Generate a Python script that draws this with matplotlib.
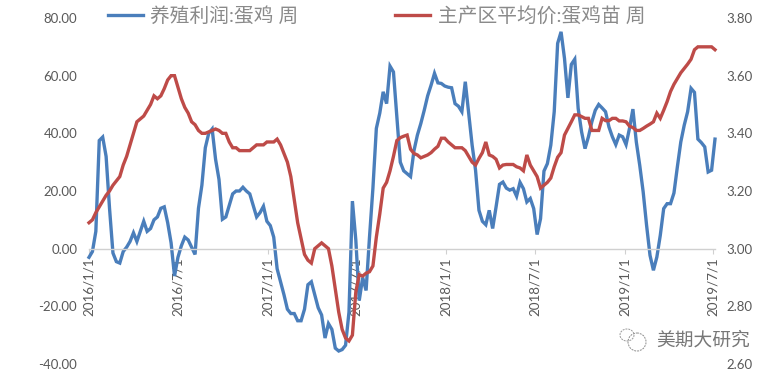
import pandas as pd
import matplotlib
matplotlib.use("Agg")
import matplotlib.pyplot as plt
from matplotlib.patches import Arc, Circle

plt.rcParams["font.family"] = ["Lato", "Noto Sans CJK SC", "DejaVu Sans"]

# Weekly values
profit = [
    -3, -1, 6, 37.5, 38.7, 32, 14, -1.5, -4.5, -5,
    -1, 0.5, 2.5, 5.5, 2.5, 6, 9.5, 6, 7, 10,
    11, 14, 14.5, 9, 2, -9.5, -3, 1, 4, 3,
    0.5, -2, 14, 22, 35, 40, 41.5, 31, 24, 10.2,
    11, 15, 19, 20, 20, 21.3, 20, 19, 15, 11,
    12.5, 14.7, 9.5, 8, 4, -7, -11.5, -16, -21, -22.5,
    -22.5, -25, -25, -21, -12.5, -11.5, -16, -20.5, -23, -31,
    -26, -28, -34.5, -35.5, -35, -33.5, -22, 16.5, 3, -18,
    -10, -14.5, 4, 21, 41.7, 47, 54.4, 50.3, 63.3, 61.3,
    45.7, 30, 27, 26, 25, 34, 39.4, 43.4, 48, 53,
    56.7, 60.8, 57.5, 57.3, 56.4, 56, 55.8, 50.3, 49.4, 47.5,
    57.9, 46.9, 35.9, 27.2, 13.3, 9.5, 8.3, 13.3, 7, 14.5,
    22.3, 23.1, 21, 20.3, 20.8, 18.2, 23, 20.8, 16.2, 17.4,
    13.9, 4.9, 10.4, 26.9, 29.5, 35.9, 47.5, 71.2, 75.2, 66,
    52.3, 63.9, 65.7, 48.6, 40.5, 34.7, 38.8, 44, 48, 50,
    48.8, 47.5, 42.2, 38.8, 36.1, 39.4, 38.8, 36.1, 41.7, 48.4,
    37, 28.9, 19.7, 8.1, -2.3, -7.5, -2.9, 4.6, 13.9, 15.6,
    15.6, 19.3, 28.4, 37, 42.8, 47.5, 55.6, 54.2, 38, 36.8,
    35.3, 26.6, 27.2, 38,
]

price = [
    3.09, 3.10, 3.125, 3.145, 3.165, 3.185, 3.20, 3.22, 3.235, 3.25,
    3.29, 3.32, 3.36, 3.40, 3.44, 3.45, 3.46, 3.48, 3.50, 3.53,
    3.52, 3.53, 3.555, 3.585, 3.60, 3.60, 3.56, 3.52, 3.49, 3.47,
    3.44, 3.43, 3.41, 3.40, 3.40, 3.405, 3.41, 3.415, 3.41, 3.40,
    3.40, 3.37, 3.35, 3.35, 3.34, 3.34, 3.34, 3.34, 3.35, 3.36,
    3.36, 3.36, 3.37, 3.37, 3.37, 3.38, 3.36, 3.33, 3.30, 3.25,
    3.17, 3.09, 3.035, 2.98, 2.96, 2.95, 3.00, 3.01, 3.02, 3.01,
    3.00, 2.94, 2.86, 2.78, 2.72, 2.69, 2.68, 2.70, 2.85, 2.91,
    2.905, 2.915, 2.92, 2.94, 3.04, 3.12, 3.21, 3.23, 3.27, 3.32,
    3.375, 3.385, 3.39, 3.394, 3.345, 3.33, 3.325, 3.315, 3.32, 3.325,
    3.333, 3.345, 3.355, 3.383, 3.383, 3.37, 3.36, 3.35, 3.35, 3.35,
    3.34, 3.32, 3.30, 3.29, 3.313, 3.333, 3.37, 3.325, 3.32, 3.31,
    3.28, 3.29, 3.292, 3.292, 3.292, 3.284, 3.28, 3.27, 3.325, 3.29,
    3.27, 3.25, 3.21, 3.22, 3.23, 3.245, 3.284, 3.317, 3.333, 3.394,
    3.417, 3.44, 3.464, 3.464, 3.458, 3.452, 3.452, 3.41, 3.41, 3.41,
    3.452, 3.444, 3.444, 3.452, 3.452, 3.443, 3.443, 3.44, 3.425, 3.42,
    3.41, 3.41, 3.417, 3.425, 3.432, 3.44, 3.47, 3.452, 3.48, 3.51,
    3.545, 3.57, 3.59, 3.61, 3.625, 3.64, 3.657, 3.69, 3.70, 3.70,
    3.70, 3.70, 3.70, 3.69,
]

tick_dates = ["2016-01-01", "2016-07-01", "2017-01-01", "2017-07-01",
              "2018-01-01", "2018-07-01", "2019-01-01", "2019-07-01"]
tick_labels = ["2016/1/1", "2016/7/1", "2017/1/1", "2017/7/1",
               "2018/1/1", "2018/7/1", "2019/1/1", "2019/7/1"]
left_ticks = [-40, -20, 0, 20, 40, 60, 80]
right_ticks = [2.6, 2.8, 3.0, 3.2, 3.4, 3.6, 3.8]

dates = pd.date_range("2016-01-01", periods=len(profit), freq="7D")

W, H = 775, 373
fig = plt.figure(figsize=(W / 100, H / 100), dpi=100)
ax = fig.add_axes([89 / W, (H - 364) / H, (715 - 89) / W, (364 - 18) / H])
ax2 = ax.twinx()

line1, = ax.plot(dates, profit, color="#4A7EBB", lw=2.4, clip_on=False,
                 solid_joinstyle="miter", label="养殖利润:蛋鸡 周")
line2, = ax2.plot(dates, price, color="#BE4B48", lw=2.4, clip_on=False,
                  solid_joinstyle="miter", label="主产区平均价:蛋鸡苗 周")

ax.set_xlim(dates[0], dates[-1])
ax.set_ylim(-40, 80)
ax2.set_ylim(2.6, 3.8)

ax.set_yticks(left_ticks)
ax.set_yticklabels([f"{v:.2f}" for v in left_ticks])
ax2.set_yticks(right_ticks)
ax2.set_yticklabels([f"{v:.2f}" for v in right_ticks])
ax.set_xticks(pd.to_datetime(tick_dates))
ax.set_xticklabels(tick_labels)

for a in (ax, ax2):
    for s in a.spines.values():
        s.set_visible(False)
ax.spines["bottom"].set_visible(True)
ax.spines["bottom"].set_position(("data", 0))
ax.spines["bottom"].set_color("#D0D0D0")
ax.spines["bottom"].set_linewidth(1)

ax.tick_params(axis="x", length=3.6, width=0.8, color="#D0D0D0", pad=2.5,
               labelsize=9.6, labelcolor="#595959", labelrotation=90)
ax.tick_params(axis="y", length=0, pad=8.5, labelsize=9.5, labelcolor="#595959")
ax2.tick_params(axis="y", length=0, pad=8, labelsize=9.5, labelcolor="#595959")

fig.legend(handles=[line1, line2], ncol=2, frameon=False,
           loc="upper left", bbox_to_anchor=(108 / W, 1 - 6 / H),
           borderpad=0, borderaxespad=0, prop={"size": 14.2},
           labelcolor="#8A8A8A", handlelength=1.75, handletextpad=0.4,
           columnspacing=4.9)

# watermark
fig.text(656 / W, 1 - 340 / H, "美期大研究", fontsize=13.5, color="#777777",
         va="center", ha="left")
px_ax = fig.add_axes([0, 0, 1, 1], facecolor="none")
px_ax.set_xlim(0, W)
px_ax.set_ylim(H, 0)
px_ax.axis("off")
px_ax.add_patch(Circle((637, 342), 9, fill=False, ec="#8C8C8C", lw=0.7, ls=(0, (2, 1))))
px_ax.add_patch(Arc((627, 335), 14, 12, fill=False, ec="#9A9A9A", lw=0.7, ls=(0, (2, 1))))

fig.savefig("out.png", dpi=100)
plt.close(fig)
